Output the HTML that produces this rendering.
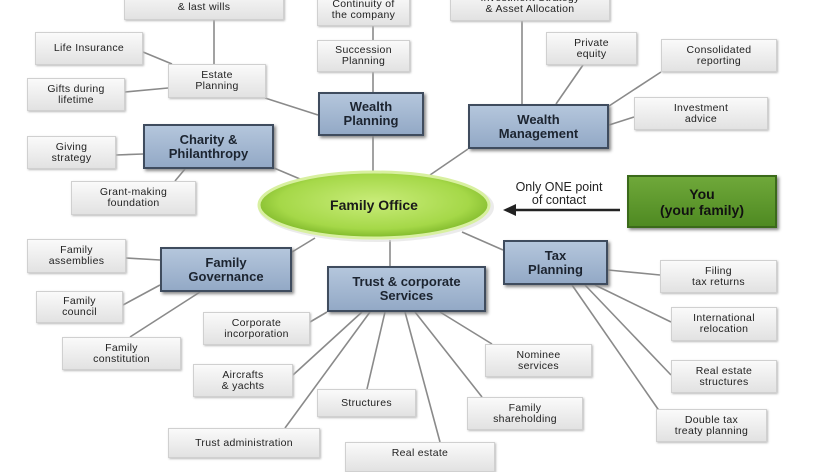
<!DOCTYPE html>
<html><head><meta charset="utf-8"><style>
body{margin:0;width:815px;height:455px;overflow:hidden;background:#fff;font-family:"Liberation Sans",Arial,sans-serif;position:relative}
.g{position:absolute;box-sizing:border-box;background:linear-gradient(#fafafa,#e2e2e2);border:1px solid #d0d0d0;box-shadow:1px 1px 2px #bbb;display:flex;align-items:center;justify-content:center;text-align:center;font-size:10.5px;line-height:11px;color:#222;letter-spacing:.3px}
.b{position:absolute;box-sizing:border-box;background:linear-gradient(#b4c6dc,#93a9c6);border:2px solid #3f4c5e;box-shadow:2px 2px 3px #888;display:flex;align-items:center;justify-content:center;text-align:center;font-size:13px;font-weight:bold;line-height:14px;color:#1c2430}
svg{position:absolute;left:0;top:0}
</style></head><body>
<svg width="815" height="455"><g stroke="#8a8a8a" stroke-width="1.6" fill="none">
<line x1="214" y1="20" x2="214" y2="64"/><line x1="143" y1="52" x2="172" y2="64"/><line x1="125" y1="92" x2="168" y2="88"/><line x1="265" y1="98" x2="318" y2="115"/>
<line x1="373" y1="26" x2="373" y2="40"/><line x1="373" y1="72" x2="373" y2="92"/><line x1="373" y1="136" x2="373" y2="172"/>
<line x1="274" y1="168" x2="300" y2="179"/><line x1="116" y1="155" x2="143" y2="154"/><line x1="175" y1="181" x2="185" y2="169"/>
<line x1="522" y1="21" x2="522" y2="104"/><line x1="583" y1="65" x2="556" y2="104"/><line x1="661" y1="72" x2="609" y2="106"/><line x1="634" y1="117" x2="609" y2="125"/><line x1="468" y1="149" x2="430" y2="175"/>
<line x1="126" y1="258" x2="160" y2="260"/><line x1="123" y1="305" x2="160" y2="285"/><line x1="130" y1="337" x2="200" y2="292"/><line x1="292" y1="252" x2="315" y2="238"/>
<line x1="390" y1="266" x2="390" y2="240"/><line x1="503" y1="250" x2="462" y2="232"/>
<line x1="310" y1="322" x2="327" y2="312"/><line x1="293" y1="375" x2="362" y2="312"/><line x1="285" y1="428" x2="370" y2="312"/><line x1="367" y1="389" x2="385" y2="312"/><line x1="440" y1="442" x2="405" y2="312"/><line x1="482" y1="397" x2="415" y2="312"/><line x1="492" y1="344" x2="440" y2="312"/>
<line x1="608" y1="270" x2="660" y2="275"/><line x1="595" y1="285" x2="671" y2="322"/><line x1="585" y1="285" x2="671" y2="375"/><line x1="572" y1="285" x2="660" y2="412"/>
</g>
<line x1="620" y1="210" x2="512" y2="210" stroke="#222" stroke-width="2.5"/><polygon points="503,210 516,204 516,216" fill="#222"/>
<defs><radialGradient id="e" cx="50%" cy="45%" r="55%"><stop offset="0" stop-color="#c9ec7a"/><stop offset=".75" stop-color="#a5d848"/><stop offset="1" stop-color="#7fb82a"/></radialGradient></defs>
<ellipse cx="376" cy="207" rx="118" ry="35" fill="#ddd" opacity=".6"/>
<ellipse cx="374" cy="205" rx="115" ry="33" fill="url(#e)" stroke="#d8f0a0" stroke-width="3"/>
<text x="374" y="210" text-anchor="middle" font-family="Liberation Sans" font-weight="bold" font-size="14" fill="#1a1a1a">Family Office</text>
<text x="559" y="191" text-anchor="middle" font-family="Liberation Sans" font-size="12.5" fill="#222">Only ONE point</text>
<text x="559" y="204" text-anchor="middle" font-family="Liberation Sans" font-size="12.5" fill="#222">of contact</text>
</svg>
<div class="g" style="left:124px;top:-12px;width:160px;height:32px;align-items:flex-end;padding-bottom:6px">&amp; last wills</div>
<div class="g" style="left:317px;top:-6px;width:93px;height:32px">Continuity of<br>the company</div>
<div class="g" style="left:450px;top:-12px;width:160px;height:33px;align-items:flex-end;padding-bottom:5px">Investment Strategy<br>&amp; Asset Allocation</div>
<div class="g" style="left:35px;top:32px;width:108px;height:33px">Life Insurance</div>
<div class="g" style="left:168px;top:64px;width:98px;height:34px">Estate<br>Planning</div>
<div class="g" style="left:27px;top:78px;width:98px;height:33px">Gifts during<br>lifetime</div>
<div class="g" style="left:317px;top:40px;width:93px;height:32px">Succession<br>Planning</div>
<div class="b" style="left:318px;top:92px;width:106px;height:44px">Wealth<br>Planning</div>
<div class="g" style="left:546px;top:32px;width:91px;height:33px">Private<br>equity</div>
<div class="g" style="left:661px;top:39px;width:116px;height:33px">Consolidated<br>reporting</div>
<div class="b" style="left:468px;top:104px;width:141px;height:45px">Wealth<br>Management</div>
<div class="g" style="left:634px;top:97px;width:134px;height:33px">Investment<br>advice</div>
<div class="b" style="left:143px;top:124px;width:131px;height:45px">Charity &amp;<br>Philanthropy</div>
<div class="g" style="left:27px;top:136px;width:89px;height:33px">Giving<br>strategy</div>
<div class="g" style="left:71px;top:181px;width:125px;height:34px">Grant-making<br>foundation</div>
<div class="b" style="left:627px;top:175px;width:150px;height:53px;background:linear-gradient(#6fa83a,#4f8a22);border-color:#3b6a1a;font-size:14px;line-height:16px;color:#111">You<br>(your family)</div>
<div class="g" style="left:27px;top:239px;width:99px;height:34px">Family<br>assemblies</div>
<div class="b" style="left:160px;top:247px;width:132px;height:45px">Family<br>Governance</div>
<div class="g" style="left:36px;top:291px;width:87px;height:32px">Family<br>council</div>
<div class="g" style="left:62px;top:337px;width:119px;height:33px">Family<br>constitution</div>
<div class="b" style="left:327px;top:266px;width:159px;height:46px">Trust &amp; corporate<br>Services</div>
<div class="b" style="left:503px;top:240px;width:105px;height:45px">Tax<br>Planning</div>
<div class="g" style="left:203px;top:312px;width:107px;height:33px">Corporate<br>incorporation</div>
<div class="g" style="left:193px;top:364px;width:100px;height:33px">Aircrafts<br>&amp; yachts</div>
<div class="g" style="left:317px;top:389px;width:99px;height:28px">Structures</div>
<div class="g" style="left:168px;top:428px;width:152px;height:30px">Trust administration</div>
<div class="g" style="left:345px;top:442px;width:150px;height:30px;align-items:flex-start;padding-top:5px">Real estate</div>
<div class="g" style="left:485px;top:344px;width:107px;height:33px">Nominee<br>services</div>
<div class="g" style="left:467px;top:397px;width:116px;height:33px">Family<br>shareholding</div>
<div class="g" style="left:660px;top:260px;width:117px;height:33px">Filing<br>tax returns</div>
<div class="g" style="left:671px;top:307px;width:106px;height:34px">International<br>relocation</div>
<div class="g" style="left:671px;top:360px;width:106px;height:33px">Real estate<br>structures</div>
<div class="g" style="left:656px;top:409px;width:111px;height:33px">Double tax<br>treaty planning</div>
</body></html>
